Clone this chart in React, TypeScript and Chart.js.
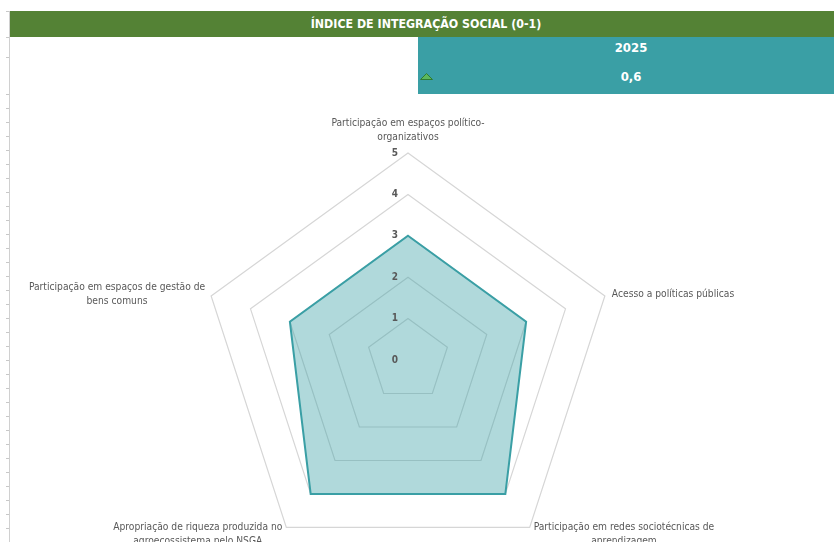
import React, { useEffect, useRef } from "react";
import { Chart, registerables } from "chart.js";

Chart.register(...registerables);

// ---- data ----
const categories: string[][] = [
  ["Participação em espaços político-", "organizativos"],
  ["Acesso a políticas públicas"],
  ["Participação em redes sociotécnicas de", "aprendizagem"],
  ["Apropriação de riqueza produzida no", "agroecossistema pelo NSGA"],
  ["Participação em espaços de gestão de", "bens comuns"],
];
const seriesValues: number[] = [3, 3, 4, 4, 3];
const tickValues: number[] = [0, 1, 2, 3, 4, 5];
const titleText = "ÍNDICE DE INTEGRAÇÃO SOCIAL (0-1)";
const yearLabel = "2025";
const indexValue = "0,6";

// ---- styles ----
const FONT_FAMILY = '"Liberation Sans Narrow", "DejaVu Sans Condensed", "Liberation Sans", sans-serif';
const LABEL_FONT = `10.2px ${FONT_FAMILY}`;
const TICK_FONT = `bold 10px ${FONT_FAMILY}`;
const TEXT_GRAY = "#595959";
const TEAL = "#3a9fa5";
const GREEN = "#548235";

const labelsPlugin = {
  id: "customLabels",
  afterDatasetsDraw(chart: any) {
    const scale = chart.scales.r;
    const ctx = chart.ctx as CanvasRenderingContext2D;
    ctx.save();
    // tick labels
    ctx.font = TICK_FONT;
    ctx.fillStyle = TEXT_GRAY;
    ctx.textAlign = "center";
    ctx.textBaseline = "middle";
    tickValues.forEach((v) => {
      const d = scale.getDistanceFromCenterForValue(v);
      ctx.fillText(String(v), scale.xCenter - 13, scale.yCenter - d);
    });
    // point labels
    ctx.font = LABEL_FONT;
    const lineH = 14;
    (chart.data.labels as any[]).forEach((lab, i) => {
      const lines: string[] = Array.isArray(lab) ? lab : [lab];
      const p = scale.getPointPosition(i, scale.drawingArea);
      const w = Math.max(...lines.map((l) => ctx.measureText(l).width));
      const dx = p.x - scale.xCenter;
      const dy = p.y - scale.yCenter;
      let cx: number;
      let firstY: number;
      if (Math.abs(dx) < 1) {
        cx = p.x;
        firstY = p.y - 16 - (lines.length - 1) * lineH;
      } else if (dy > 0) {
        cx = dx > 0 ? p.x + 4 + w / 2 : p.x - 4 - w / 2;
        firstY = p.y;
      } else {
        cx = dx > 0 ? p.x + 7 + w / 2 : p.x - 6 - w / 2;
        firstY = p.y - 2 - ((lines.length - 1) * lineH) / 2;
      }
      lines.forEach((l, k) => ctx.fillText(l, cx, firstY + k * lineH));
    });
    ctx.restore();
  },
};

function RadarChart() {
  const ref = useRef<HTMLCanvasElement | null>(null);
  useEffect(() => {
    if (!ref.current) return;
    const chart = new Chart(ref.current, {
      type: "radar",
      data: {
        labels: categories,
        datasets: [
          {
            data: seriesValues,
            borderColor: TEAL,
            backgroundColor: "rgba(58,159,165,0.4)",
            borderWidth: 2,
            pointRadius: 0,
            pointHoverRadius: 0,
            fill: true,
          },
        ],
      },
      options: {
        responsive: false,
        animation: false,
        devicePixelRatio: 1,
        layout: { padding: { left: 201, right: 219, top: 153, bottom: 33 } },
        plugins: { legend: { display: false }, tooltip: { enabled: false } },
        scales: {
          r: {
            min: tickValues[0],
            max: tickValues[tickValues.length - 1],
            ticks: { stepSize: 1, display: false },
            grid: { color: "#d6d6d6", lineWidth: 1.2 },
            angleLines: { display: false },
            pointLabels: { display: false },
          },
        },
      },
      plugins: [labelsPlugin],
    } as any);
    return () => chart.destroy();
  }, []);
  return (
    <canvas
      ref={ref}
      width={834}
      height={600}
      style={{ position: "absolute", left: 0, top: 0, width: 834, height: 600 }}
    />
  );
}

export default function App() {
  const ticks: number[] = [11, 37, 57];
  for (let y = 94; y < 542; y += 14) ticks.push(y);
  return (
    <div
      style={{
        position: "fixed",
        left: 0,
        top: 0,
        width: 834,
        height: 542,
        overflow: "hidden",
        background: "#ffffff",
        fontFamily: FONT_FAMILY,
      }}
    >
      <RadarChart />
      {/* left sheet border */}
      <div style={{ position: "absolute", left: 9, top: 11, width: 1, height: 531, background: "#d0d0d0" }} />
      {ticks.map((y) => (
        <div key={y} style={{ position: "absolute", left: 6, top: y, width: 3, height: 1, background: "#c8c8c8" }} />
      ))}
      {/* header */}
      <div
        style={{
          position: "absolute",
          left: 10,
          top: 11,
          width: 832,
          height: 26,
          background: GREEN,
          color: "#ffffff",
          fontWeight: "bold",
          fontSize: 12.3,
          lineHeight: "26px",
          textAlign: "center",
        }}
      >
        {titleText}
      </div>
      {/* teal box */}
      <div
        style={{
          position: "absolute",
          left: 418,
          top: 37,
          width: 426,
          height: 57,
          background: TEAL,
          color: "#ffffff",
          fontWeight: "bold",
          fontSize: 13,
        }}
      >
        <div style={{ position: "absolute", left: 0, width: 426, top: 2, height: 18, lineHeight: "18px", textAlign: "center" }}>
          {yearLabel}
        </div>
        <div style={{ position: "absolute", left: 0, width: 426, top: 31, height: 18, lineHeight: "18px", textAlign: "center" }}>
          {indexValue}
        </div>
        <svg style={{ position: "absolute", left: 2, top: 36 }} width={13} height={7} viewBox="0 0 13 7">
          <polygon points="6.5,0.5 12.5,6.5 0.5,6.5" fill="#5cb85c" stroke="#2e7d32" strokeWidth={1} />
        </svg>
      </div>
    </div>
  );
}
